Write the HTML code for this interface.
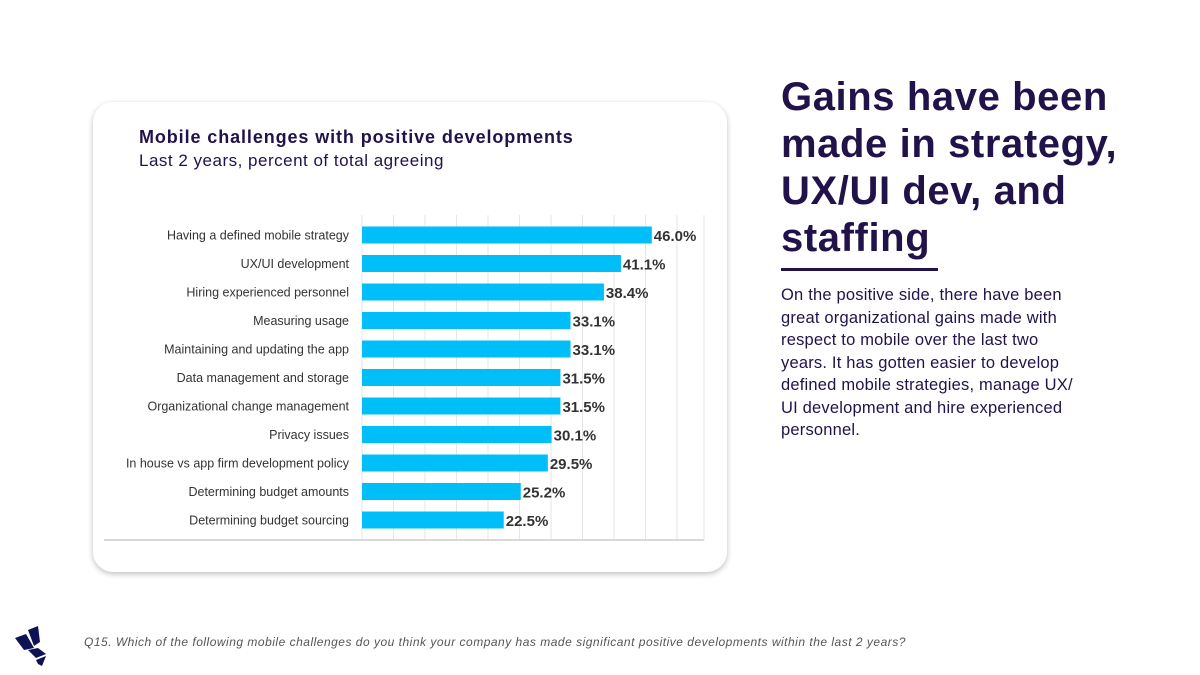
<!DOCTYPE html>
<html><head><meta charset="utf-8"><style>
body{margin:0;width:1200px;height:675px;background:#fff;font-family:"Liberation Sans",sans-serif;position:relative;overflow:hidden}
.card{position:absolute;left:93px;top:102px;width:634px;height:470px;border-radius:20px;background:#fff;box-shadow:0 2px 6px rgba(0,0,0,.25)}
.t{position:absolute;color:#22124a}
</style></head><body>
<div class="card"></div>
<div class="t" style="left:139px;top:127px;font-size:18px;font-weight:bold;letter-spacing:0.9px">Mobile challenges with positive developments</div>
<div class="t" style="left:139px;top:151px;font-size:17px;letter-spacing:0.5px">Last 2 years, percent of total agreeing</div>
<svg id="chart" width="1200" height="675" style="position:absolute;left:0;top:0"></svg>
<div class="t" style="left:781px;top:74px;font-size:40px;font-weight:bold;line-height:47px;width:410px;letter-spacing:0.6px">Gains have been made in strategy, UX/UI dev, and staffing</div>
<div style="position:absolute;left:781px;top:268px;width:157px;height:3px;background:#22124a"></div>
<div class="t" style="left:781px;top:284px;font-size:16.5px;line-height:22.5px;width:308px;letter-spacing:0.2px">On the positive side, there have been great organizational gains made with respect to mobile over the last two years. It has gotten easier to develop defined mobile strategies, manage UX/ UI development and hire experienced personnel.</div>
<svg width="40" height="40" style="position:absolute;left:12px;top:626px"><polygon points="3,12 14,8 22,22 12,24" fill="#0d1254"/><polygon points="16,4 26,0 28,16 22,20" fill="#0d1254"/><polygon points="16,24 26,22 34,28 24,32" fill="#0d1254"/><polygon points="24,34 34,30 30,40 26,38" fill="#0d1254"/></svg>
<div style="position:absolute;left:84px;top:635px;font-size:12px;font-style:italic;color:#555;letter-spacing:0.5px">Q15. Which of the following mobile challenges do you think your company has made significant positive developments within the last 2 years?</div>
<script>
const categories=["Having a defined mobile strategy","UX/UI development","Hiring experienced personnel","Measuring usage","Maintaining and updating the app","Data management and storage","Organizational change management","Privacy issues","In house vs app firm development policy","Determining budget amounts","Determining budget sourcing"];
const values=[46.0,41.1,38.4,33.1,33.1,31.5,31.5,30.1,29.5,25.2,22.5];
const ticks=[0,5,10,15,20,25,30,35,40,45,50];
const svg=document.getElementById('chart');const NS='http://www.w3.org/2000/svg';
const x=v=>362+v*6.3;const y=i=>235+i*28.5;
function mk(t,a){const e=document.createElementNS(NS,t);for(const k in a)e.setAttribute(k,a[k]);svg.appendChild(e);return e;}
ticks.forEach(t=>{const l=mk('line',{x1:x(t),x2:x(t),y1:215,y2:540,stroke:'#e6e6e6','stroke-width':1});

});
const ax=mk('line',{x1:104,x2:704,y1:540,y2:540,stroke:'#ccc','stroke-width':1.5});


const rb=mk('line',{x1:704,x2:704,y1:215,y2:540,stroke:'#e6e6e6','stroke-width':1});


categories.forEach((c,i)=>{
const lb=mk('text',{x:349,y:y(i)+4.5,'text-anchor':'end','font-size':12.5,fill:'#333','font-family':'Liberation Sans, sans-serif'});lb.textContent=c;


const b=mk('rect',{x:x(0),y:y(i)-8.5,width:x(values[i])-x(0),height:17,fill:'#00bff8'});


const v=mk('text',{x:x(values[i])+2,y:y(i)+6,'font-size':15,'font-weight':'bold',fill:'#333','font-family':'Liberation Sans, sans-serif'});v.textContent=values[i].toFixed(1)+'%';


});
</script>
</body></html>
